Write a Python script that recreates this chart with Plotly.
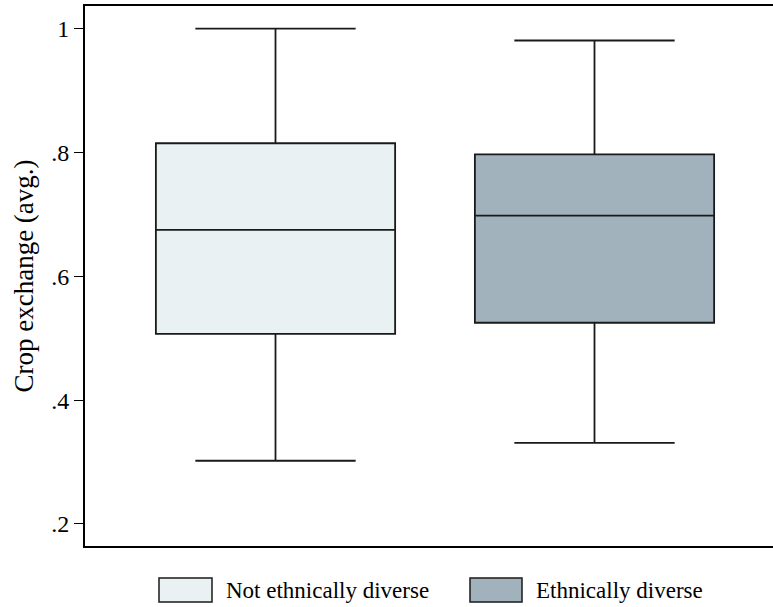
import plotly.graph_objects as go

# Data
groups = ["Not ethnically diverse", "Ethnically diverse"]
positions = [0, 1]
lower_whisker = [0.302, 0.331]
q1 = [0.507, 0.525]
median = [0.675, 0.698]
q3 = [0.815, 0.797]
upper_whisker = [1.0, 0.981]
fills = ["#E9F1F2", "#A2B2BD"]

y_ticks = [0.2, 0.4, 0.6, 0.8, 1.0]
y_ticktext = [".2", ".4", ".6", ".8", "1"]

W, H = 773, 607
L, R, T, B = 85, 0, 6, 61

fig = go.Figure()
for i in range(len(groups)):
    fig.add_trace(go.Box(
        name=groups[i],
        x=[positions[i]],
        q1=[q1[i]], median=[median[i]], q3=[q3[i]],
        lowerfence=[lower_whisker[i]], upperfence=[upper_whisker[i]],
        fillcolor=fills[i],
        line=dict(color="#1a1a1a", width=1.8),
        width=0.75,
        whiskerwidth=0.67,
        boxpoints=False,
        hoverinfo="skip",
        showlegend=False,
    ))

# Custom legend (Stata-style large swatches)
pw, ph = W - L - R, H - T - B
def px(x):
    return (x - L) / pw
def py(y):
    return (H - B - y) / ph

shapes = []
annotations = []
sw = [(159, 212), (470, 522)]
tx = [224, 534]
for i in range(len(groups)):
    shapes.append(dict(type="rect", xref="paper", yref="paper",
                       x0=px(sw[i][0]), x1=px(sw[i][1]), y0=py(578), y1=py(602),
                       fillcolor=fills[i], line=dict(color="#1a1a1a", width=1.5)))
    annotations.append(dict(xref="paper", yref="paper", x=px(tx[i]), y=py(590),
                            xanchor="left", yanchor="middle", showarrow=False,
                            text=groups[i],
                            font=dict(family="Liberation Serif", size=23, color="#000")))

x0_px, x1_px = L, W
centers_px = [275.5, 594.5]
unit = centers_px[1] - centers_px[0]
xr = [(x0_px - centers_px[0]) / unit, (x1_px - centers_px[0]) / unit]

fig.update_layout(
    width=W, height=H,
    margin=dict(l=L, r=R, t=T, b=B),
    paper_bgcolor="white", plot_bgcolor="white",
    boxmode="overlay",
    showlegend=False,
    shapes=shapes,
    annotations=annotations,
    font=dict(family="Liberation Serif", color="#000"),
    xaxis=dict(range=xr, showticklabels=False, ticks="",
               showgrid=False, zeroline=False, showline=True, mirror=True,
               linecolor="#000", linewidth=2),
    yaxis=dict(range=[0.1643, 1.0367], tickvals=y_ticks, ticktext=y_ticktext,
               ticks="outside", ticklen=9, tickwidth=1.2, tickcolor="#000",
               tickfont=dict(family="Liberation Serif", size=24, color="#000"),
               showgrid=False, zeroline=False, showline=True, mirror=False,
               linecolor="#000", linewidth=2,
               title=dict(text="Crop exchange (avg.)",
                          font=dict(family="Liberation Serif", size=27, color="#000"),
                          standoff=10)),
)

fig.write_html("out.html", config={"displayModeBar": False},
               post_script="document.body.style.margin='0';")
